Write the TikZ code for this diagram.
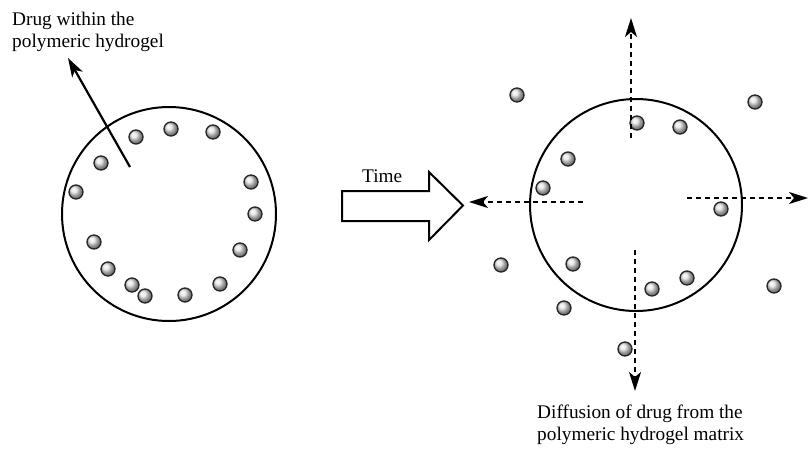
\documentclass[tikz,border=0pt]{standalone}
\usepackage{fontspec}
\setmainfont{Liberation Serif}
\usetikzlibrary{arrows.meta}
\begin{document}
\begin{tikzpicture}[x=1pt,y=-1pt,
  gel/.style={draw, line width=2pt},
  drug/.style={circle, draw=black!85, line width=1.3pt, minimum size=14pt, inner sep=0pt, ball color=gray!22},
  lbl/.style={font=\fontsize{19.3}{21.5}\selectfont, align=left, inner sep=0pt, anchor=base west},
  flow/.style={line width=1.9pt, dash pattern=on 5pt off 4pt, -{Stealth[length=19pt,width=12pt,inset=5pt]}},
  pointer/.style={line width=2.2pt, -{Stealth[length=19pt,width=12pt,inset=5pt]}},
  timearrow/.style={draw, line width=2pt, line join=miter}]
\useasboundingbox (0,0) rectangle (808,453);

% hydrogel at the start
\node[gel, circle, minimum size=214pt, inner sep=0pt] (gelA) at (169,214) {};
% hydrogel after release
\node[gel, circle, minimum size=212pt, inner sep=0pt] (gelB) at (636,205) {};

% drug loaded in the first hydrogel
\foreach \n/\px/\py in {a1/136/137, a2/171/129, a3/213/132, a4/101/163, a5/76/192,
  a6/251/182, a7/255/214, a8/94/242, a9/240/250, a10/108/269, a11/132/285,
  a12/145/296, a13/185/295, a14/220/284}
  \node[drug] (\n) at (\px,\py) {};

% drug inside and outside the swollen hydrogel
\foreach \n/\px/\py in {b1/517/95, b2/755/102, b3/637/123, b4/680/127, b5/568/159,
  b6/543/188, b7/721/209, b8/573/264, b9/501/265, b10/687/278, b11/652/289,
  b12/774/286, b13/564/308, b14/625/349}
  \node[drug] (\n) at (\px,\py) {};

% label and pointer for the loaded drug (base = last line)
\node[lbl] (drugtxt) at (12,47) {Drug within the\\polymeric hydrogel};
\coordinate (ptrS) at (130,167);
\coordinate (ptrE) at (68,58);
\draw[pointer] (ptrS) -- (ptrE);

% block arrow for the passage of time
\draw[timearrow] (342,191) -- (429,191) -- (429,172) -- (463,205.5)
  -- (429,240) -- (429,221) -- (342,221) -- cycle;
\node[lbl] (timetxt) at (362,182) {Time};

% release directions
\coordinate (upS) at (631,138);  \coordinate (upE) at (631,18);
\coordinate (dnS) at (635,250);  \coordinate (dnE) at (635,391);
\coordinate (ltS) at (583,202);  \coordinate (ltE) at (469,202);
\coordinate (rtS) at (687,198);  \coordinate (rtE) at (808,198);
\draw[flow] (upS) -- (upE);
\draw[flow] (dnS) -- (dnE);
\draw[flow] (ltS) -- (ltE);
\draw[flow] (rtS) -- (rtE);

\node[lbl] (difftxt) at (537,440) {Diffusion of drug from the\\polymeric hydrogel matrix};
\end{tikzpicture}
\end{document}
